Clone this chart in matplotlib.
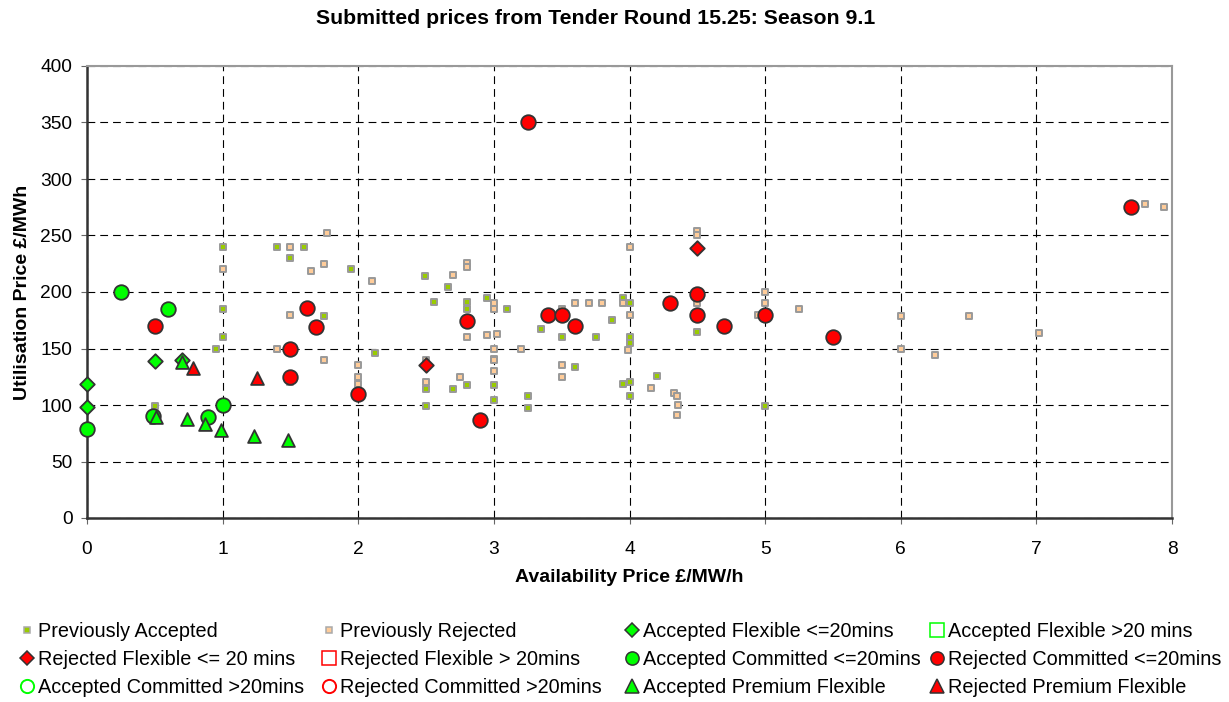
import matplotlib
matplotlib.use("Agg")
import matplotlib.pyplot as plt
from matplotlib.lines import Line2D

plt.rcParams['font.family'] = ['Liberation Sans', 'DejaVu Sans']

# previous tender rounds
prev_acc_x = [1.0, 1.4, 1.6, 1.5, 1.95, 1.0, 1.0, 0.95, 1.75, 2.12, 0.5,
              2.49, 2.66, 2.56, 2.8, 2.8, 2.95, 3.1, 3.35, 3.5, 3.75, 3.87,
              3.95, 4.0, 4.0, 4.0, 2.5, 2.5, 2.8, 2.7, 3.0, 3.0, 3.25, 3.25,
              3.6, 3.95, 4.0, 4.0, 4.2, 4.5, 5.0]
prev_acc_y = [240, 240, 240, 230, 220, 185, 160, 150, 179, 146, 99,
              214, 204, 191, 191, 185, 195, 185, 167, 160, 160, 175,
              195, 190, 160, 155, 114, 99, 118, 114, 118, 104, 108, 97,
              134, 119, 120, 108, 126, 165, 99]

prev_rej_x = [1.5, 1.77, 1.0, 1.65, 1.75, 2.1, 1.5, 1.4, 1.75, 2.0, 2.0,
              2.0, 1.5, 4.0, 2.8, 2.8, 2.7, 3.0, 3.0, 2.8, 2.95, 3.02, 3.0,
              3.2, 3.5, 3.6, 3.7, 3.8, 3.95, 4.0, 3.99, 3.0, 2.5, 2.5, 2.75,
              3.0, 3.0, 3.5, 3.5, 4.16, 4.33, 4.35, 4.36, 4.35, 4.5, 4.5,
              4.5, 5.0, 5.0, 4.95, 5.25, 6.0, 6.5, 7.02, 6.0, 6.25, 7.8,
              7.94]
prev_rej_y = [240, 252, 220, 219, 225, 210, 180, 150, 140, 135, 125,
              119, 120, 240, 226, 222, 215, 190, 185, 160, 162, 163, 150,
              150, 185, 190, 190, 190, 190, 180, 149, 141, 140, 120, 125,
              140, 130, 135, 125, 115, 111, 108, 100, 91, 254, 250,
              190, 200, 190, 180, 185, 179, 179, 164, 150, 144, 278,
              275]

# this round
acc_flex_x = [0.5, 0.7, 0.0, 0.0]
acc_flex_y = [139, 140, 119, 98]

rej_flex_x = [2.5, 4.5]
rej_flex_y = [135, 239]

acc_comm_x = [0.25, 0.6, 0.0, 0.49, 1.0, 0.89]
acc_comm_y = [200, 185, 79, 90, 100, 89]

rej_comm_x = [0.5, 1.62, 1.69, 1.5, 1.5, 2.0, 2.8, 2.9, 3.25, 3.4, 3.5,
              3.6, 4.3, 4.5, 4.5, 4.7, 5.0, 5.5, 7.7]
rej_comm_y = [170, 186, 169, 150, 125, 110, 174, 87, 350, 180, 180,
              170, 190, 198, 180, 170, 180, 160, 275]

acc_prem_x = [0.7, 0.51, 0.74, 0.87, 0.99, 1.23, 1.48]
acc_prem_y = [138, 89, 88, 83, 78, 73, 69]

rej_prem_x = [0.78, 1.25]
rej_prem_y = [133, 124]

W, H = 1229, 702
fig = plt.figure(figsize=(W / 100, H / 100), dpi=100)
ax = fig.add_axes([87 / W, 1 - 518 / H, (1172 - 87) / W, (518 - 66) / H])

edge = '#333333'
ax.scatter(prev_acc_x, prev_acc_y, marker='s', s=24, c='#99cc00',
           edgecolors='#999999', linewidths=1.4, zorder=3)
ax.scatter(prev_rej_x, prev_rej_y, marker='s', s=24, c='#ffcc99',
           edgecolors='#999999', linewidths=1.4, zorder=3)
ax.scatter(acc_flex_x, acc_flex_y, marker='D', s=55, c='#00ff00',
           edgecolors=edge, linewidths=1.3, zorder=4, clip_on=False)
ax.scatter(rej_flex_x, rej_flex_y, marker='D', s=55, c='#ff0000',
           edgecolors=edge, linewidths=1.3, zorder=4)
ax.scatter(acc_comm_x, acc_comm_y, marker='o', s=110, c='#00ff00',
           edgecolors=edge, linewidths=1.3, zorder=4, clip_on=False)
ax.scatter(rej_comm_x, rej_comm_y, marker='o', s=110, c='#ff0000',
           edgecolors=edge, linewidths=1.3, zorder=4)
ax.scatter(acc_prem_x, acc_prem_y, marker='^', s=85, c='#00ff00',
           edgecolors=edge, linewidths=1.3, zorder=5)
ax.scatter(rej_prem_x, rej_prem_y, marker='^', s=85, c='#ff0000',
           edgecolors=edge, linewidths=1.3, zorder=5)

ax.set_xlim(0, 8)
ax.set_ylim(0, 400)
ax.set_xticks(range(0, 9))
ax.set_yticks(range(0, 401, 50))
ax.grid(True, color='black', linestyle=(0, (7, 4.5)), linewidth=0.8)
ax.set_axisbelow(True)
ax.tick_params(direction='out', length=4.5, labelsize=13.8, color='#666666')
ax.tick_params(axis='x', pad=12)
ax.tick_params(axis='y', pad=6)
for s in ['left', 'bottom']:
    ax.spines[s].set_color('#333333')
    ax.spines[s].set_linewidth(1.8)
for s in ['top', 'right']:
    ax.spines[s].set_color('#999999')
    ax.spines[s].set_linewidth(1.5)

fig.text(596 / W, 1 - 18 / H, 'Submitted prices from Tender Round 15.25: Season 9.1',
         fontsize=15.3, fontweight='bold', ha='center', va='center')
ax.set_xlabel('Availability Price £/MW/h', fontsize=14, fontweight='bold', labelpad=8)
ax.set_ylabel('Utilisation Price £/MWh', fontsize=14, fontweight='bold', labelpad=7)


def mk(marker, face, ec, size, lw=1.1):
    return Line2D([0], [0], marker=marker, linestyle='none', markersize=size,
                  markerfacecolor=face, markeredgecolor=ec, markeredgewidth=lw)


handles = [
    mk('s', '#99cc00', '#aaaaaa', 5),
    mk('s', '#ffcc99', '#aaaaaa', 5),
    mk('D', '#00ff00', edge, 7),
    mk('s', 'none', '#00ff00', 10),
    mk('D', '#ff0000', edge, 7),
    mk('s', 'none', '#ff0000', 10),
    mk('o', '#00ff00', edge, 9.5),
    mk('o', '#ff0000', edge, 9.5),
    mk('o', 'none', '#00ff00', 9.5, 1.4),
    mk('o', 'none', '#ff0000', 9.5, 1.4),
    mk('^', '#00ff00', edge, 9.5),
    mk('^', '#ff0000', edge, 9.5),
]
labels = ['Previously Accepted', 'Previously Rejected',
          'Accepted Flexible <=20mins', 'Accepted Flexible >20 mins',
          'Rejected Flexible <= 20 mins', 'Rejected Flexible > 20mins',
          'Accepted Committed <=20mins', 'Rejected Committed <=20mins',
          'Accepted Committed >20mins', 'Rejected Committed >20mins',
          'Accepted Premium Flexible', 'Rejected Premium Flexible']

# one legend per column so the columns sit where the original has them
col_marker_px = [27, 329, 632, 937]
for c, mx in enumerate(col_marker_px):
    idx = list(range(c, 12, 4))
    fig.legend([handles[i] for i in idx], [labels[i] for i in idx],
               loc='upper left', bbox_to_anchor=((mx - 6) / W, 1 - 622 / H),
               borderaxespad=0, borderpad=0, frameon=False, fontsize=14.3,
               handlelength=0.6, handletextpad=0.25, labelspacing=0.45)

fig.savefig('out.png', dpi=100)
